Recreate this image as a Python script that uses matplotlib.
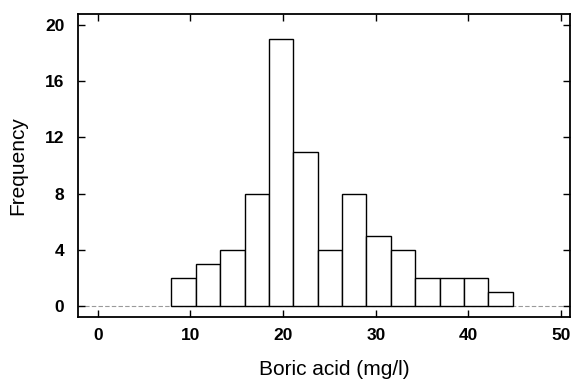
import numpy as np
import matplotlib
matplotlib.use("Agg")
import matplotlib.pyplot as plt

# bin edges (mg/l) and counts
bin_edges = [7.95, 10.58, 13.21, 15.84, 18.47, 21.10, 23.73, 26.36,
             28.99, 31.62, 34.25, 36.88, 39.51, 42.14, 44.77]
counts = [2, 3, 4, 8, 19, 11, 4, 8, 5, 4, 2, 2, 2, 1]

x_ticks = [0, 10, 20, 30, 40, 50]
y_ticks = [0, 4, 8, 12, 16, 20]

plt.rcParams['font.family'] = ['Liberation Sans', 'DejaVu Sans']

fig = plt.figure(figsize=(5.71, 3.81), dpi=100)
ax = fig.add_axes([0.137, 0.167, 0.862, 0.796])

edges = np.array(bin_edges)
ax.bar(edges[:-1], counts, width=np.diff(edges), align='edge',
       facecolor='white', edgecolor='black', linewidth=1.0, zorder=2)

# faint baseline of the empty bins
ax.axhline(0, color='#9a9a9a', linewidth=0.8, linestyle=(0, (4, 2)), zorder=1)

ax.set_xlim(-2.1, 51.0)
ax.set_ylim(-0.8, 20.78)
ax.set_xticks(x_ticks)
ax.set_yticks(y_ticks)

ax.tick_params(direction='in', length=5, width=1.0, top=True, right=True,
               labelsize=12.5, pad=8)
ax.tick_params(axis='y', pad=10)
for lab in ax.get_xticklabels() + ax.get_yticklabels():
    lab.set_fontweight('bold')

for sp in ax.spines.values():
    sp.set_linewidth(1.3)

ax.set_xlabel('Boric acid (mg/l)', fontsize=15)
ax.set_ylabel('Frequency', fontsize=15)
ax.xaxis.set_label_coords(0.52, -0.14)
ax.yaxis.set_label_coords(-0.104, 0.5)

fig.savefig('out.png', dpi=100)
